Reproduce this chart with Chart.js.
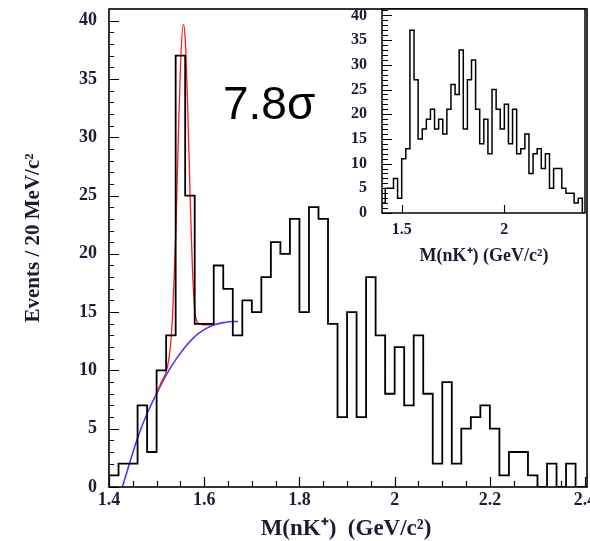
<!DOCTYPE html>
<html>
<head>
<meta charset="utf-8">
<script src="https://cdn.jsdelivr.net/npm/chart.js@4.4.1/dist/chart.umd.min.js"></script>
<style>
  html, body { margin: 0; padding: 0; background: #fff; }
  #wrap { position: relative; width: 590px; height: 541px; }
  #main { position: absolute; left: 0; top: 0; }
  #inset { position: absolute; left: 340px; top: 0; }
</style>
</head>
<body>
<div id="wrap">
  <canvas id="main" width="590" height="541"></canvas>
  <canvas id="inset" width="250" height="265"></canvas>
</div>
<script>
// histogram bins: 20 MeV wide, starting at 1.40 GeV
const binStart = 1.4;
const binWidth = 0.02;

const mainCounts = [1, 2, 2, 7, 3, 10, 13, 37, 25, 14,
                    14, 19, 17, 13, 16, 15, 18, 21, 20, 23,
                    15, 24, 23, 14, 6, 15, 6, 18, 13, 8,
                    12, 7, 13, 8, 2, 9, 2, 5, 6, 7,
                    5, 1, 3, 3, 1, 0, 2, 0, 2, 0];

const insetCounts = [2, 5, 5, 7, 3, 11, 13, 37, 27, 15,
                     17, 19, 21, 17, 19, 16, 21, 26, 24, 33,
                     17, 27, 31, 21, 14, 19, 12, 25, 21, 17,
                     22, 14, 21, 12, 13, 16, 8, 12, 13, 9,
                     12, 5, 9, 9, 5, 4, 4, 2, 3, 0];

// fit curves
const bkgX = [1.428, 1.44, 1.46, 1.48, 1.50, 1.52, 1.54, 1.56, 1.58, 1.60, 1.62, 1.64, 1.66, 1.671];
const bkgY = [0, 1.6, 4.2, 6.3, 8.0, 9.6, 10.9, 12.0, 12.9, 13.5, 13.9, 14.1, 14.2, 14.2];

const fitX = [1.50, 1.51, 1.52, 1.525, 1.53, 1.535, 1.54, 1.545, 1.55, 1.556,
              1.56, 1.565, 1.57, 1.575, 1.58, 1.585, 1.59, 1.60, 1.61, 1.62];
const fitY = [8.0, 9.0, 9.9, 10.8, 12.5, 16, 21.5, 29, 36, 39.7,
              38.5, 33, 25.5, 19, 15.2, 14.2, 14.0, 13.9, 13.9, 13.95];

const mainXTicks = [1.4, 1.6, 1.8, 2, 2.2, 2.4];
const mainYTicks = [0, 5, 10, 15, 20, 25, 30, 35, 40];
const insetXTicks = [1.5, 2];
const insetYTicks = [0, 5, 10, 15, 20, 25, 30, 35, 40];

const textColor = '#1b1b35';
const serif = '"Liberation Serif", "Times New Roman", serif';

function histPoints(counts) {
  const pts = counts.map((c, i) => ({ x: binStart + i * binWidth, y: c }));
  pts.push({ x: binStart + counts.length * binWidth, y: counts[counts.length - 1] });
  return pts;
}

function xy(xs, ys) {
  return xs.map((x, i) => ({ x: x, y: ys[i] }));
}

const fmt = v => String(Math.round(v * 10) / 10);

const mainDeco = {
  id: 'mainDeco',
  afterDraw(chart) {
    const { ctx, chartArea: a, scales: { x, y } } = chart;
    ctx.save();
    ctx.strokeStyle = '#000';
    ctx.lineWidth = 1.2;
    ctx.beginPath();
    for (let v = 0; v <= 40; v++) {
      const py = Math.round(y.getPixelForValue(v)) + 0.5;
      const len = v % 5 === 0 ? 10 : 5;
      ctx.moveTo(a.left, py);
      ctx.lineTo(a.left + len, py);
    }
    for (let i = 0; i <= 20; i++) {
      const px = Math.round(x.getPixelForValue(1.4 + i * 0.05)) + 0.5;
      const len = i % 4 === 0 ? 10 : 6;
      ctx.moveTo(px, a.bottom);
      ctx.lineTo(px, a.bottom - len);
    }
    ctx.stroke();
    ctx.lineWidth = 1.6;
    ctx.strokeRect(a.left, a.top, a.right - a.left, a.bottom - a.top);

    ctx.fillStyle = textColor;
    ctx.textAlign = 'center';
    ctx.textBaseline = 'alphabetic';
    ctx.font = 'bold 23px ' + serif;
    ctx.fillText('M(nK\u207A)  (GeV/c\u00B2)', 346, 535);

    ctx.save();
    ctx.translate(39, 238);
    ctx.rotate(-Math.PI / 2);
    ctx.font = 'bold 21px ' + serif;
    ctx.fillText('Events / 20 MeV/c\u00B2', 0, 0);
    ctx.restore();

    ctx.fillStyle = '#000';
    ctx.textAlign = 'left';
    ctx.font = '46px "Liberation Sans", Arial, sans-serif';
    ctx.fillText('7.8\u03C3', 223, 119);
    ctx.restore();
  }
};

const insetDeco = {
  id: 'insetDeco',
  beforeDatasetsDraw(chart) {
    const { ctx, chartArea: a } = chart;
    ctx.save();
    ctx.fillStyle = '#fff';
    ctx.fillRect(a.left, a.top, a.right - a.left, a.bottom - a.top);
    ctx.restore();
  },
  afterDraw(chart) {
    const { ctx, chartArea: a, scales: { x, y } } = chart;
    ctx.save();
    ctx.strokeStyle = '#000';
    ctx.lineWidth = 1.1;
    ctx.beginPath();
    for (let v = 0; v <= 41; v++) {
      const py = Math.round(y.getPixelForValue(v)) + 0.5;
      const len = v % 5 === 0 ? 10 : 6;
      ctx.moveTo(a.left, py);
      ctx.lineTo(a.left + len, py);
    }
    insetXTicks.forEach(v => {
      const px = Math.round(x.getPixelForValue(v)) + 0.5;
      ctx.moveTo(px, a.bottom);
      ctx.lineTo(px, a.bottom - 8);
    });
    ctx.stroke();
    ctx.lineWidth = 1.5;
    ctx.strokeRect(a.left, a.top, a.right - a.left, a.bottom - a.top);

    ctx.fillStyle = textColor;
    ctx.textAlign = 'center';
    ctx.textBaseline = 'alphabetic';
    ctx.font = 'bold 18px ' + serif;
    ctx.fillText('M(nK\u207A) (GeV/c\u00B2)', 144, 261);
    ctx.restore();
  }
};

function fixTicks(list) {
  return scale => { scale.ticks = list.map(v => ({ value: v })); };
}

new Chart(document.getElementById('main'), {
  type: 'line',
  data: {
    datasets: [
      {
        data: histPoints(mainCounts),
        stepped: 'before',
        borderColor: '#000',
        borderWidth: 1.8,
        pointRadius: 0,
        fill: false
      },
      {
        data: xy(fitX, fitY),
        borderColor: '#ff1a1a',
        borderWidth: 1.3,
        pointRadius: 0,
        cubicInterpolationMode: 'monotone',
        fill: false
      },
      {
        data: xy(bkgX, bkgY),
        borderColor: '#5533ff',
        borderWidth: 1.6,
        pointRadius: 0,
        cubicInterpolationMode: 'monotone',
        fill: false
      }
    ]
  },
  options: {
    responsive: false,
    animation: false,
    devicePixelRatio: 1,
    layout: { padding: { left: 0, right: 3, top: 9, bottom: 0 } },
    plugins: { legend: { display: false }, tooltip: { enabled: false } },
    scales: {
      x: {
        type: 'linear',
        min: 1.4,
        max: 2.404,
        afterBuildTicks: fixTicks(mainXTicks),
        afterFit: s => { s.height = 54; s.paddingLeft = 0; s.paddingRight = 0; },
        grid: { display: false, drawTicks: false },
        border: { display: false },
        ticks: {
          padding: 3,
          autoSkip: false,
          maxRotation: 0,
          color: textColor,
          font: { family: serif, weight: 'bold', size: 18 },
          callback: fmt
        }
      },
      y: {
        type: 'linear',
        min: 0,
        max: 41,
        afterBuildTicks: fixTicks(mainYTicks),
        afterFit: s => { s.width = 109; s.paddingTop = 0; s.paddingBottom = 0; },
        grid: { display: false, drawTicks: false },
        border: { display: false },
        ticks: {
          padding: 12,
          color: textColor,
          font: { family: serif, weight: 'bold', size: 18 }
        }
      }
    }
  },
  plugins: [mainDeco]
});

new Chart(document.getElementById('inset'), {
  type: 'line',
  data: {
    datasets: [
      {
        data: histPoints(insetCounts),
        stepped: 'before',
        borderColor: '#000',
        borderWidth: 1.5,
        pointRadius: 0,
        fill: false
      }
    ]
  },
  options: {
    responsive: false,
    animation: false,
    devicePixelRatio: 1,
    layout: { padding: { left: 0, right: 5, top: 9, bottom: 0 } },
    plugins: { legend: { display: false }, tooltip: { enabled: false } },
    scales: {
      x: {
        type: 'linear',
        min: 1.404,
        max: 2.393,
        afterBuildTicks: fixTicks(insetXTicks),
        afterFit: s => { s.height = 52; s.paddingLeft = 0; s.paddingRight = 0; },
        grid: { display: false, drawTicks: false },
        border: { display: false },
        ticks: {
          padding: 7,
          autoSkip: false,
          maxRotation: 0,
          color: textColor,
          font: { family: serif, weight: 'bold', size: 16 },
          callback: fmt
        }
      },
      y: {
        type: 'linear',
        min: 0,
        max: 41.3,
        afterBuildTicks: fixTicks(insetYTicks),
        afterFit: s => { s.width = 42; s.paddingTop = 0; s.paddingBottom = 0; },
        grid: { display: false, drawTicks: false },
        border: { display: false },
        ticks: {
          padding: 15,
          color: textColor,
          font: { family: serif, weight: 'bold', size: 16 }
        }
      }
    }
  },
  plugins: [insetDeco]
});
</script>
</body>
</html>
